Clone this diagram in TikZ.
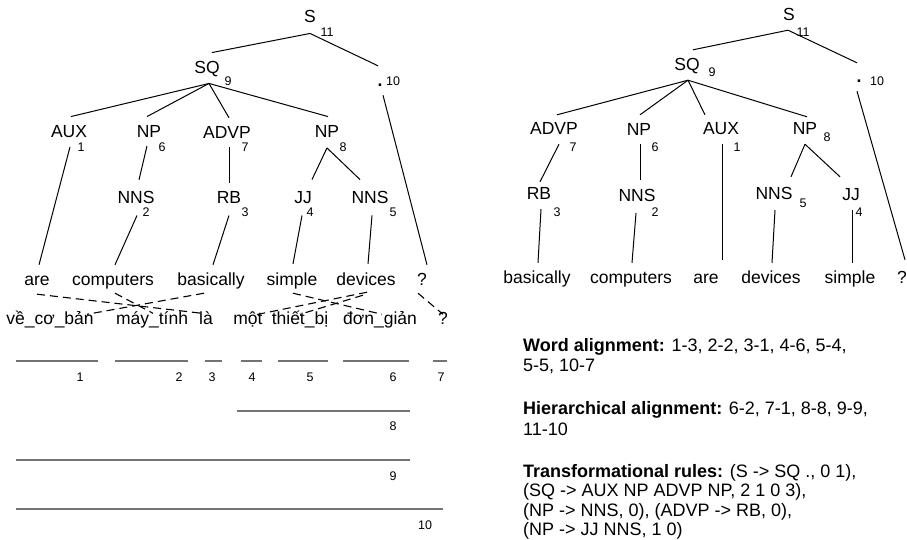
\documentclass[tikz,border=0pt]{standalone}
\usepackage{fontspec}
\setmainfont{Liberation Sans}
\newcommand\catf{\fontsize{17.5}{20}\selectfont}
\newcommand\txtf{\fontsize{18}{20}\selectfont}
\newcommand\numf{\fontsize{12.5}{14}\selectfont}
\tikzset{
  cat/.style={font=\catf, inner sep=0pt, text height=12.5pt, text depth=0pt},
  num/.style={font=\numf, inner sep=0pt},
  wrd/.style={font=\catf, inner sep=0pt, text height=12.5pt, text depth=4pt, anchor=base},
  txt/.style={font=\txtf, inner sep=0pt, anchor=base west},
  br/.style={line width=1pt, black},
  al/.style={line width=1.1pt, black, dash pattern=on 8pt off 5pt},
  bar/.style={line width=2pt, black!55},
}
\begin{document}
\begin{tikzpicture}[x=1pt,y=-1pt]
\fill[white] (0,0) rectangle (907,539);
\useasboundingbox (0,0) rectangle (907,539);

% ---------------- left tree ----------------
\node[cat] (lS) at (310,16) {S};
\node[num] at (327,32) {11};
\node[cat] (lSQ) at (207,67) {SQ};
\node[num] at (228,81) {9};
\node[cat] (ldot) at (380,79.75) {\textbf{.}};
\node[num] at (393,81) {10};
\node[cat] (lAUX) at (69,131) {AUX};
\node[num] at (81,147) {1};
\node[cat] (lNP6) at (149,131) {NP};
\node[num] at (162,147) {6};
\node[cat] (lADVP) at (227,132) {ADVP};
\node[num] at (245,147) {7};
\node[cat] (lNP8) at (327,131) {NP};
\node[num] at (343,147) {8};
\node[cat] (lNNS2) at (136,197) {NNS};
\node[num] at (146,212) {2};
\node[cat] (lRB) at (229,197) {RB};
\node[num] at (245,212) {3};
\node[cat] (lJJ) at (303,197) {JJ};
\node[num] at (310,212) {4};
\node[cat] (lNNS5) at (370,197) {NNS};
\node[num] at (393,212) {5};

\node[wrd] (lare) at (37,285) {are};
\node[wrd] (lcomp) at (113,285) {computers};
\node[wrd] (lbas) at (211,285) {basically};
\node[wrd] (lsim) at (292,285) {simple};
\node[wrd] (ldev) at (366,285) {devices};
\node[wrd] (lq) at (422,285) {?};

\node[wrd] (vve) at (50,324) {về\_cơ\_bản};
\node[wrd] (vmay) at (152,324) {máy\_tính};
\node[wrd] (vla) at (206,324) {là};
\node[wrd] (vmot) at (248,324) {một};
\node[wrd] (vthiet) at (300,324) {thiết\_bị};
\node[wrd] (vdon) at (380,324) {đơn\_giản};
\node[wrd] (vq) at (443,324) {?};

\draw[br] ([yshift=-11pt]lS.south) -- ([xshift=5pt,yshift=8pt]lSQ.north);
\draw[br] ([yshift=-11pt]lS.south) -- ([xshift=-2pt,yshift=7.5pt]ldot.north);
\draw[br] ([xshift=2pt,yshift=-10pt]lSQ.south) -- ([xshift=2pt,yshift=8pt]lAUX.north);
\draw[br] ([xshift=2pt,yshift=-10pt]lSQ.south) -- ([xshift=-2pt,yshift=8pt]lNP6.north);
\draw[br] ([xshift=2pt,yshift=-10pt]lSQ.south) -- ([xshift=2pt,yshift=7.75pt]lADVP.north);
\draw[br] ([xshift=2pt,yshift=-10pt]lSQ.south) -- ([xshift=1pt,yshift=8pt]lNP8.north);
\draw[br] ([xshift=3pt,yshift=-9pt]ldot.south) -- ([xshift=5pt,yshift=7.5pt]lq.north);
\draw[br] ([xshift=1pt,yshift=-9.5pt]lAUX.south) -- ([xshift=2pt,yshift=7.5pt]lare.north);
\draw[br] ([xshift=-2pt,yshift=-8.5pt]lNP6.south) -- ([xshift=3pt,yshift=10.75pt]lNNS2.north);
\draw[br] ([xshift=2pt,yshift=-8.75pt]lADVP.south) -- ([yshift=7.75pt]lRB.north);
\draw[br] ([yshift=-10.5pt]lNP8.south) -- ([xshift=9pt,yshift=11pt]lJJ.north);
\draw[br] ([yshift=-10.5pt]lNP8.south) -- ([xshift=-10pt,yshift=11pt]lNNS5.north);
\draw[br] ([xshift=1pt,yshift=-12pt]lNNS2.south) -- ([xshift=2pt,yshift=7.5pt]lcomp.north);
\draw[br] ([yshift=-12pt]lRB.south) -- ([xshift=2pt,yshift=7.5pt]lbas.north);
\draw[br] ([xshift=-1pt,yshift=-12pt]lJJ.south) -- ([xshift=1pt,yshift=8.5pt]lsim.north);
\draw[br] ([xshift=2pt,yshift=-12pt]lNNS5.south) -- ([xshift=2pt,yshift=8.5pt]ldev.north);

% alignment
\draw[al] ([yshift=-5pt]lare.south) -- ([xshift=-4pt,yshift=-2pt]vla.north);
\draw[al] ([xshift=2pt,yshift=-4pt]lcomp.south) -- ([xshift=1pt,yshift=-2pt]vmay.north);
\draw[al] ([xshift=-7pt,yshift=-4pt]lbas.south) -- ([xshift=37pt,yshift=-3pt]vve.north);
\draw[al] ([xshift=1pt,yshift=-4pt]lsim.south) -- ([xshift=2pt,yshift=-3pt]vdon.north);
\draw[al] ([xshift=1pt,yshift=-3pt]ldev.south) -- ([xshift=5pt,yshift=-4pt]vmot.north);
\draw[al] ([xshift=-3pt,yshift=-6pt]ldev.south) -- ([yshift=-3pt]vthiet.north);
\draw[al] ([xshift=-4pt,yshift=-4pt]lq.south) -- ([yshift=-3pt]vq.north);

% spans
\draw[bar] (16,360.7) -- (98,360.7);
\draw[bar] (115,360.7) -- (188,360.7);
\draw[bar] (205,360.7) -- (222,360.7);
\draw[bar] (241,360.7) -- (262,360.7);
\draw[bar] (278,360.7) -- (328,360.7);
\draw[bar] (343,360.7) -- (409,360.7);
\draw[bar] (433,360.7) -- (447,360.7);
\node[num] at (80,377) {1};
\node[num] at (179,377) {2};
\node[num] at (212,377) {3};
\node[num] at (252,377) {4};
\node[num] at (310,377) {5};
\node[num] at (393,377) {6};
\node[num] at (441,377) {7};
\draw[bar] (237,411) -- (410,411);
\node[num] at (393,426) {8};
\draw[bar] (16,460) -- (410,460);
\node[num] at (393,476) {9};
\draw[bar] (16,509) -- (443,509);
\node[num] at (425,525) {10};

% ---------------- right tree ----------------
\node[cat] (rS) at (789,14) {S};
\node[num] at (803,32) {11};
\node[cat] (rSQ) at (687,64.5) {SQ};
\node[num] at (712,72) {9};
\node[cat] (rdot) at (859,75.75) {\textbf{.}};
\node[num] at (877,81) {10};
\node[cat] (rADVP) at (554,128) {ADVP};
\node[num] at (573,147) {7};
\node[cat] (rNP6) at (639,129) {NP};
\node[num] at (655,147) {6};
\node[cat] (rAUX) at (721,128) {AUX};
\node[num] at (737,147) {1};
\node[cat] (rNP8) at (805,128) {NP};
\node[num] at (827,137) {8};
\node[cat] (rRB) at (539,193) {RB};
\node[num] at (557,212) {3};
\node[cat] (rNNS2) at (637,195) {NNS};
\node[num] at (655,212) {2};
\node[cat] (rNNS5) at (774,193) {NNS};
\node[num] at (803,203) {5};
\node[cat] (rJJ) at (851,194) {JJ};
\node[num] at (859,212) {4};

\node[wrd] (rbas) at (537,283) {basically};
\node[wrd] (rcomp) at (631,283) {computers};
\node[wrd] (rare) at (706,283) {are};
\node[wrd] (rdev) at (771,283) {devices};
\node[wrd] (rsim) at (850,283) {simple};
\node[wrd] (rq) at (902,283) {?};

\draw[br] ([xshift=-1pt,yshift=-9.75pt]rS.south) -- ([xshift=6pt,yshift=8.25pt]rSQ.north);
\draw[br] ([xshift=-1pt,yshift=-9.75pt]rS.south) -- ([xshift=-2pt,yshift=6.5pt]rdot.north);
\draw[br] ([xshift=1pt,yshift=-9.25pt]rSQ.south) -- ([xshift=3pt,yshift=6.75pt]rADVP.north);
\draw[br] ([xshift=1pt,yshift=-9.25pt]rSQ.south) -- ([xshift=1pt,yshift=7.75pt]rNP6.north);
\draw[br] ([xshift=1pt,yshift=-9.25pt]rSQ.south) -- ([xshift=-16pt,yshift=6.75pt]rAUX.north);
\draw[br] ([xshift=1pt,yshift=-9.25pt]rSQ.south) -- ([xshift=2pt,yshift=4.75pt]rNP8.north);
\draw[br] ([xshift=-2pt,yshift=-9pt]rdot.south) -- ([xshift=3pt,yshift=10.5pt]rq.north);
\draw[br] ([xshift=5pt,yshift=-9.75pt]rADVP.south) -- ([xshift=1pt,yshift=4.75pt]rRB.north);
\draw[br] ([xshift=1pt,yshift=-8.75pt]rNP6.south) -- ([xshift=3pt,yshift=8.75pt]rNNS2.north);
\draw[br] ([xshift=1pt,yshift=-9.75pt]rAUX.south) -- ([xshift=16pt,yshift=10.5pt]rare.north);
\draw[br] ([yshift=-9.75pt]rNP8.south) -- ([xshift=17pt,yshift=9.75pt]rNNS5.north);
\draw[br] ([yshift=-9.75pt]rNP8.south) -- ([xshift=-11pt,yshift=10.75pt]rJJ.north);
\draw[br] ([xshift=2pt,yshift=-9.75pt]rRB.south) -- ([xshift=1pt,yshift=7.5pt]rbas.north);
\draw[br] ([xshift=-1pt,yshift=-11.75pt]rNNS2.south) -- ([xshift=1pt,yshift=7.5pt]rcomp.north);
\draw[br] ([xshift=1pt,yshift=-10.75pt]rNNS5.south) -- ([xshift=1pt,yshift=7.5pt]rdev.north);
\draw[br] ([xshift=1pt,yshift=-9.75pt]rJJ.south) -- ([xshift=2pt,yshift=7.5pt]rsim.north);

% ---------------- text block ----------------
\node[txt] (t1) at (523,351) {\textbf{Word alignment:} 1-3, 2-2, 3-1, 4-6, 5-4,};
\node[txt] (t2) at (523,371) {5-5, 10-7};
\node[txt] (t3) at (523,414) {\textbf{Hierarchical alignment:} 6-2, 7-1, 8-8, 9-9,};
\node[txt] (t4) at (523,435) {11-10};
\node[txt] (t5) at (523,477) {\textbf{Transformational rules:} (S -> SQ ., 0 1),};
\node[txt] (t6) at (523,496.5) {(SQ -> AUX NP ADVP NP, 2 1 0 3),};
\node[txt] (t7) at (523,516) {(NP -> NNS, 0), (ADVP -> RB, 0),};
\node[txt] (t8) at (523,535) {(NP -> JJ NNS, 1 0)};
\end{tikzpicture}
\end{document}
